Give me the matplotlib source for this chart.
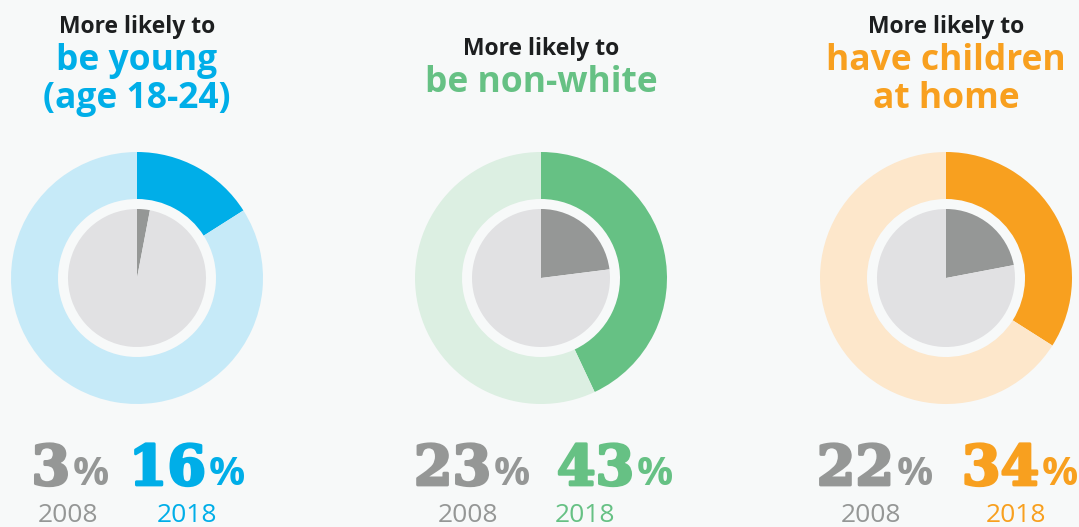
import matplotlib.pyplot as plt
import matplotlib.patheffects as pe

# values
titles_top = ["More likely to", "More likely to", "More likely to"]
titles_main = [["be young", "(age 18-24)"], ["be non-white"], ["have children", "at home"]]
share_2008 = [3, 23, 22]
share_2018 = [16, 43, 34]
years = ["2008", "2018"]

accent = ["#00aee8", "#66c184", "#f8a01f"]
accent_light = ["#c6eaf8", "#dcefe2", "#fde7cb"]
gray_dark = "#959796"
gray_light = "#e1e1e3"
bg = "#f7f9f9"

W, H = 1079, 527
centers_x = [137, 541, 946]
center_y = H - 278
r_outer, r_ring_in, r_inner = 126, 79, 69

fig = plt.figure(figsize=(W / 100, H / 100), dpi=100, facecolor=bg)
ax = fig.add_axes([0, 0, 1, 1])
ax.set_facecolor(bg)

for i, cx in enumerate(centers_x):
    # outer ring: 2018
    ax.pie([share_2018[i], 100 - share_2018[i]], radius=r_outer, center=(cx, center_y),
           startangle=90, counterclock=False, colors=[accent[i], accent_light[i]],
           wedgeprops=dict(width=r_outer - r_ring_in, linewidth=0))
    # inner pie: 2008
    ax.pie([share_2008[i], 100 - share_2008[i]], radius=r_inner, center=(cx, center_y),
           startangle=90, counterclock=False, colors=[gray_dark, gray_light],
           wedgeprops=dict(linewidth=0))

    # titles, one text per line
    y_top = 33 if len(titles_main[i]) > 1 else 55
    ax.text(cx, H - y_top, titles_top[i], ha="center", va="baseline", family="Open Sans",
            fontweight="bold", fontsize=16.5, color="#1d1f20")
    for k, line in enumerate(titles_main[i]):
        ax.text(cx, H - (y_top + 37 + 38 * k), line, ha="center", va="baseline",
                family="Open Sans", fontweight="bold", fontsize=25.5, color=accent[i])

# big numbers and year labels
num_splits = [(71, 207), (492, 635), (895, 1040)]
year_x = [(68, 187), (468, 585), (871, 1016)]
for i in range(3):
    for j, (val, col) in enumerate([(share_2008[i], gray_dark), (share_2018[i], accent[i])]):
        xs = num_splits[i][j]
        # thin stroke to get closer to the heavy display serif
        ax.text(xs - 1, H - 485, str(val), ha="right", va="baseline", family="DejaVu Serif",
                fontweight="heavy", fontsize=40, color=col,
                path_effects=[pe.withStroke(linewidth=2, foreground=col)])
        ax.text(xs + 2, H - 485, "%", ha="left", va="baseline", family="Open Sans",
                fontweight="bold", fontsize=29, color=col)
        ax.text(year_x[i][j], H - 522, years[j], ha="center", va="baseline",
                family="Open Sans", fontsize=19, color=col)

ax.set_xlim(0, W)
ax.set_ylim(0, H)
ax.set_aspect("equal")
ax.axis("off")

fig.savefig("out.png", dpi=100, facecolor=bg)
